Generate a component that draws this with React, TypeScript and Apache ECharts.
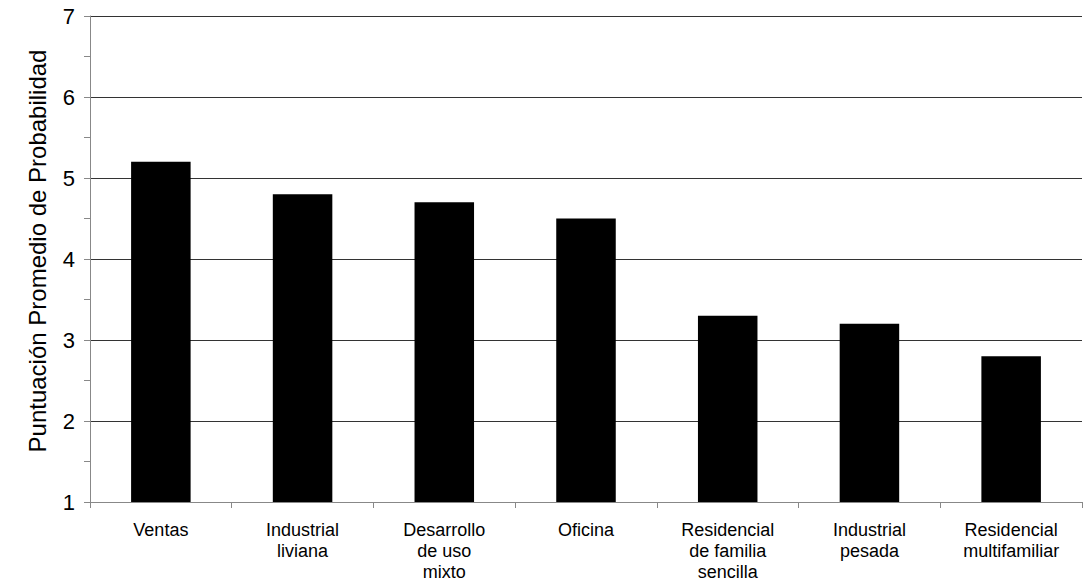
import React, { useEffect, useRef } from "react";
import * as echarts from "echarts";

const categories = [
  "Ventas",
  "Industrial\nliviana",
  "Desarrollo\nde uso\nmixto",
  "Oficina",
  "Residencial\nde familia\nsencilla",
  "Industrial\npesada",
  "Residencial\nmultifamiliar",
];
const values = [5.2, 4.8, 4.7, 4.5, 3.3, 3.2, 2.8];
const yAxisName = "Puntuación Promedio de Probabilidad";
const yMin = 1;
const yMax = 7;

export default function App() {
  const ref = useRef<HTMLDivElement>(null);
  useEffect(() => {
    if (!ref.current) return;
    const chart = echarts.init(ref.current, undefined, { renderer: "svg" });
    const font = "Liberation Sans, Arial, sans-serif";
    chart.setOption({
      animation: false,
      backgroundColor: "#fff",
      grid: { left: 90, right: 4, top: 16, bottom: 79, containLabel: false },
      graphic: [
        {
          type: "text",
          x: 37,
          y: 251,
          rotation: Math.PI / 2,
          style: {
            text: yAxisName,
            fill: "#000",
            font: `24px ${font}`,
            align: "center",
            verticalAlign: "middle",
          },
        },
      ],
      xAxis: {
        type: "category",
        data: categories,
        axisLine: { lineStyle: { color: "#888", width: 1 } },
        axisTick: { show: true, length: 6, lineStyle: { color: "#888" } },
        axisLabel: {
          interval: 0,
          color: "#000",
          fontFamily: font,
          fontSize: 18,
          lineHeight: 21,
          margin: 17,
        },
      },
      yAxis: {
        type: "value",
        min: yMin,
        max: yMax,
        interval: 1,
        axisLine: { show: true, lineStyle: { color: "#888", width: 1 } },
        axisTick: { show: true, length: 6, lineStyle: { color: "#888" } },
        minorTick: { show: true, splitNumber: 2, length: 6, lineStyle: { color: "#888" } },
        axisLabel: { color: "#000", fontFamily: font, fontSize: 22, margin: 15 },
        splitLine: { show: true, lineStyle: { color: "#333", width: 1 } },
      },
      series: [
        {
          type: "bar",
          data: values,
          barWidth: "42%",
          itemStyle: { color: "#000" },
        },
      ],
    });
    return () => chart.dispose();
  }, []);
  return (
    <div
      ref={ref}
      style={{ position: "fixed", left: 0, top: 0, width: 1086, height: 582 }}
    />
  );
}
